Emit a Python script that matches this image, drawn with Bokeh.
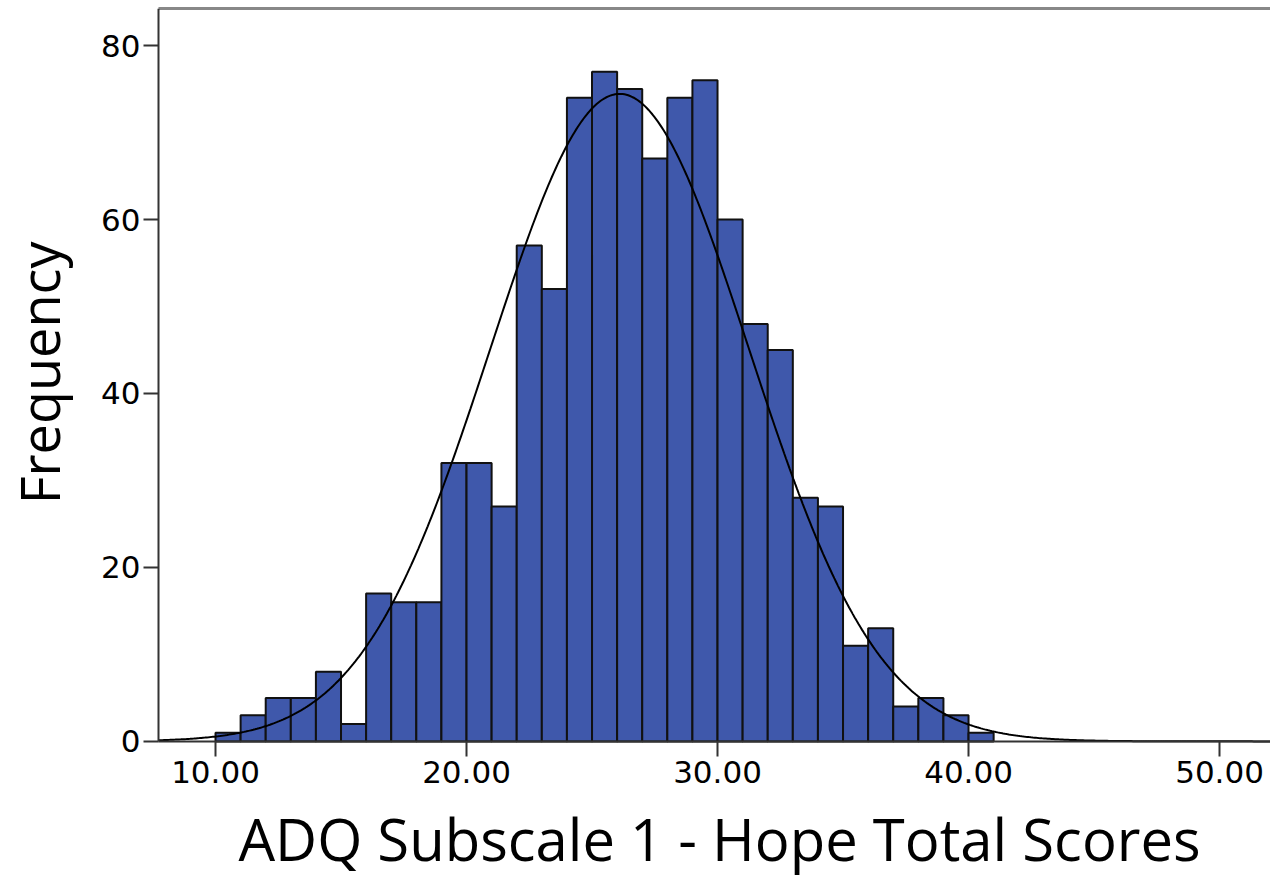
import numpy as np
from bokeh.plotting import figure
from bokeh.models import LinearAxis, FixedTicker, NumeralTickFormatter, Range1d, Label
from bokeh.embed import file_html
from bokeh.resources import INLINE

# Histogram data (bin width 1, starting at 10)
bin_lefts = list(range(10, 41))
counts = [1, 3, 5, 5, 8, 2, 17, 16, 16, 32, 32, 27, 57, 52, 74, 77, 75, 67,
          74, 76, 60, 48, 45, 28, 27, 11, 13, 4, 5, 3, 1]
bin_width = 1.0

# Fitted normal curve parameters
curve_mean = 26.1
curve_sd = 5.15
n_total = sum(counts)

x_ticks = [10, 20, 30, 40, 50]
y_ticks = [0, 20, 40, 60, 80]

x_title = "ADQ Subscale 1 - Hope Total Scores"
y_title = "Frequency"

# visible axis extent
x_axis_lo, x_axis_hi = 7.73, 52.03
y_top = 84.26
# full canvas extent (room for labels and titles around the axes)
x_canvas_lo = 1.434
y_canvas_lo = -15.65

p = figure(width=1270, height=877, output_backend="svg", toolbar_location=None,
           x_range=Range1d(x_canvas_lo, x_axis_hi), y_range=Range1d(y_canvas_lo, y_top),
           min_border_left=0, min_border_right=0, min_border_top=8,
           min_border_bottom=0)
p.background_fill_color = "white"
p.border_fill_color = "white"
p.outline_line_color = None
p.grid.visible = False

lefts = np.array(bin_lefts, dtype=float)
p.quad(left=lefts, right=lefts + bin_width, bottom=0, top=counts,
       fill_color="#3f58ab", line_color="#111111", line_width=2)

xs = np.linspace(x_axis_lo, x_axis_hi, 600)
ys = n_total * bin_width / (curve_sd * np.sqrt(2 * np.pi)) * np.exp(-0.5 * ((xs - curve_mean) / curve_sd) ** 2)
p.line(xs, ys, line_color="black", line_width=2)

tick_font = "DejaVu Sans"
for ax in (p.xaxis[0], p.yaxis[0]):
    ax.axis_line_color = "#333333"
    ax.axis_line_width = 2
    ax.major_tick_line_color = "#333333"
    ax.major_tick_line_width = 2
    ax.major_tick_out = 15
    ax.major_tick_in = 0
    ax.minor_tick_line_color = None
    ax.major_label_text_font = tick_font
    ax.major_label_text_font_size = "31px"
    ax.major_label_text_color = "black"

xa = p.xaxis[0]
xa.fixed_location = 0
xa.bounds = (x_axis_lo, x_axis_hi)
xa.ticker = FixedTicker(ticks=x_ticks)
xa.formatter = NumeralTickFormatter(format="0.00")
xa.major_label_standoff = 5

ya = p.yaxis[0]
ya.fixed_location = x_axis_lo
ya.bounds = (0, y_top)
ya.ticker = FixedTicker(ticks=y_ticks)
ya.major_label_standoff = 3

p.add_layout(Label(x=30.08, y=-11.15, text=x_title, text_align="center",
                   text_baseline="alphabetic", text_font="Open Sans",
                   text_font_size="58px", text_color="black"))
p.add_layout(Label(x=2.95, y=42.36, text=y_title, angle=np.pi / 2,
                   text_align="center", text_baseline="alphabetic",
                   text_font="Open Sans", text_font_size="54px",
                   text_color="black"))

top_axis = LinearAxis(ticker=FixedTicker(ticks=[]), axis_line_color="#888888",
                      axis_line_width=3, major_tick_line_color=None,
                      minor_tick_line_color=None, major_label_text_font_size="0px",
                      bounds=(x_axis_lo, x_axis_hi))
p.add_layout(top_axis, "above")

open("out.html", "w").write(file_html(p, INLINE))
